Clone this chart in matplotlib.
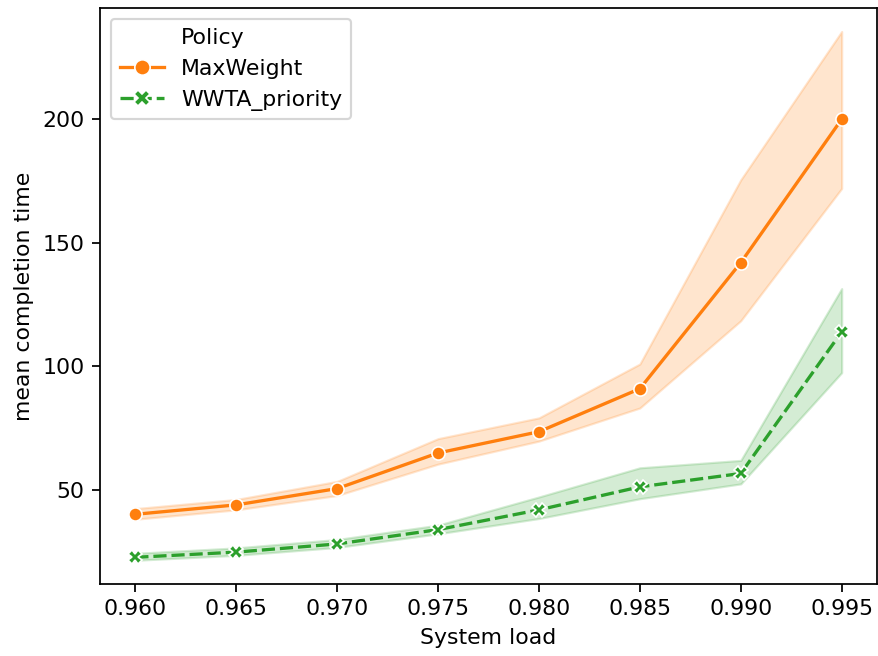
import matplotlib
matplotlib.use("Agg")
import matplotlib.pyplot as plt
from matplotlib.lines import Line2D

loads = [0.960, 0.965, 0.970, 0.975, 0.980, 0.985, 0.990, 0.995]

mw_mean = [40.2, 44.0, 50.6, 65.0, 73.6, 91.0, 142.0, 200.0]
mw_low = [38.2, 42.0, 47.8, 60.5, 69.8, 83.2, 118.5, 172.0]
mw_high = [42.5, 46.2, 53.5, 70.8, 79.2, 101.0, 175.5, 235.5]

ww_mean = [22.8, 24.9, 28.2, 34.0, 42.0, 51.3, 56.7, 114.0]
ww_low = [21.6, 23.6, 26.8, 32.3, 38.5, 46.5, 52.5, 97.5]
ww_high = [24.4, 26.6, 30.0, 35.8, 47.2, 59.0, 62.0, 131.5]

series = ["MaxWeight", "WWTA_priority"]
colors = ["#ff7f0e", "#2ca02c"]

DPI = 158
fig = plt.figure(figsize=(878 / DPI, 656 / DPI), dpi=DPI)
ax = fig.add_axes([100 / 878, 1 - 584 / 656, 777 / 878, 576 / 656])

ax.fill_between(loads, mw_low, mw_high, color=colors[0], alpha=0.2, linewidth=1)
ax.fill_between(loads, ww_low, ww_high, color=colors[1], alpha=0.2, linewidth=1)
ax.plot(loads, mw_mean, color=colors[0], lw=1.5, marker="o", markersize=6,
        markeredgecolor="white", markeredgewidth=0.75)
ax.plot(loads, ww_mean, color=colors[1], lw=1.5, marker="X", markersize=6,
        markeredgecolor="white", markeredgewidth=0.75, dashes=(4, 1.5))

ax.set_xticks(loads)
ax.set_xticklabels([f"{v:.3f}" for v in loads])
ax.set_yticks([50, 100, 150, 200])
ax.set_ylim(12.0, 245.0)
ax.set_xlabel("System load")
ax.set_ylabel("mean completion time")

handles = [
    Line2D([], [], linestyle="none"),
    Line2D([], [], color=colors[0], lw=1.5, marker="o", markersize=7,
           markeredgecolor="white", markeredgewidth=0.75),
    Line2D([], [], color=colors[1], lw=1.5, marker="X", markersize=7,
           markeredgecolor="white", markeredgewidth=0.75, dashes=(4, 1.5)),
]
ax.legend(handles, ["Policy"] + series, loc="upper left")

fig.savefig("out.png", dpi=DPI)
